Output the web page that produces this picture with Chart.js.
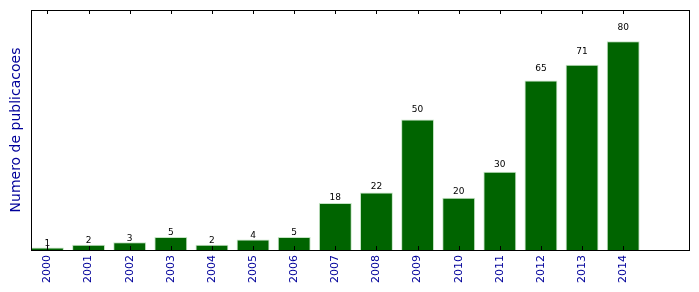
<!DOCTYPE html>
<html>
<head>
<meta charset="utf-8">
<script src="https://cdn.jsdelivr.net/npm/chart.js@4/dist/chart.umd.min.js"></script>
<style>
  html, body { margin: 0; padding: 0; background: #fff; }
  #wrap { width: 699px; height: 292px; }
</style>
</head>
<body>
<div id="wrap"><canvas id="pubs-chart"></canvas></div>
<script>
var years = ['2000','2001','2002','2003','2004','2005','2006','2007','2008','2009','2010','2011','2012','2013','2014'];
var counts = [1, 2, 3, 5, 2, 4, 5, 18, 22, 50, 20, 30, 65, 71, 80];
var yMax = 92;

// bars sit at [i, i+0.8], tick in the middle
var points = counts.map(function(v, i){ return { x: i + 0.4, y: v }; });

var frameAndLabels = {
    id: 'frameAndLabels',
    afterDatasetsDraw: function(chart){
        var c = chart.ctx, a = chart.chartArea;
        var xs = chart.scales.x, ys = chart.scales.y;
        c.save();
        // value labels over the bars
        c.fillStyle = '#000';
        c.font = '9px "DejaVu Sans"';
        c.textAlign = 'center';
        c.textBaseline = 'bottom';
        counts.forEach(function(v, i){
            c.fillText(String(v), xs.getPixelForValue(i + 0.4), ys.getPixelForValue(v * 1.05) + 1);
        });
        // inner tick marks top and bottom
        c.strokeStyle = '#000';
        c.lineWidth = 1;
        c.beginPath();
        years.forEach(function(y, i){
            var px = Math.round(xs.getPixelForValue(i + 0.4)) + 0.5;
            c.moveTo(px, a.bottom); c.lineTo(px, a.bottom - 4);
            c.moveTo(px, a.top); c.lineTo(px, a.top + 4);
        });
        c.stroke();
        // box
        c.strokeRect(Math.round(a.left) + 0.5, Math.round(a.top) + 0.5,
                     Math.round(a.right - a.left), Math.round(a.bottom - a.top));
        c.restore();
    }
};

new Chart(document.getElementById('pubs-chart'), {
    type: 'bar',
    data: {
        datasets: [{
            data: points,
            backgroundColor: '#006400',
            borderColor: 'rgba(190,225,190,0.9)',
            borderWidth: 1,
            categoryPercentage: 0.8,
            barPercentage: 1.0
        }]
    },
    options: {
        responsive: true,
        maintainAspectRatio: false,
        animation: false,
        layout: { padding: { top: 10, right: 10, left: 0, bottom: 0 } },
        plugins: { legend: { display: false }, tooltip: { enabled: false } },
        scales: {
            x: {
                type: 'linear',
                offset: false,
                min: 0,
                max: 16,
                grid: { display: false, drawTicks: false, offset: false },
                border: { display: false },
                afterBuildTicks: function(axis){
                    axis.ticks = years.map(function(y, i){ return { value: i + 0.4 }; });
                },
                afterFit: function(axis){ axis.height = 42; },
                ticks: {
                    autoSkip: false,
                    maxRotation: 90,
                    minRotation: 90,
                    padding: 5,
                    color: '#00009a',
                    font: { family: 'DejaVu Sans', size: 11 },
                    callback: function(value, index){ return years[index]; }
                }
            },
            y: {
                min: 0,
                max: yMax,
                grid: { display: false, drawTicks: false },
                border: { display: false },
                ticks: { display: false },
                afterFit: function(axis){ axis.width = 31; },
                title: {
                    display: true,
                    text: 'Numero de publicacoes',
                    color: '#00009a',
                    font: { family: 'DejaVu Sans', size: 14 },
                    padding: { top: 8, bottom: 0 }
                }
            }
        }
    },
    plugins: [frameAndLabels]
});
</script>
</body>
</html>
